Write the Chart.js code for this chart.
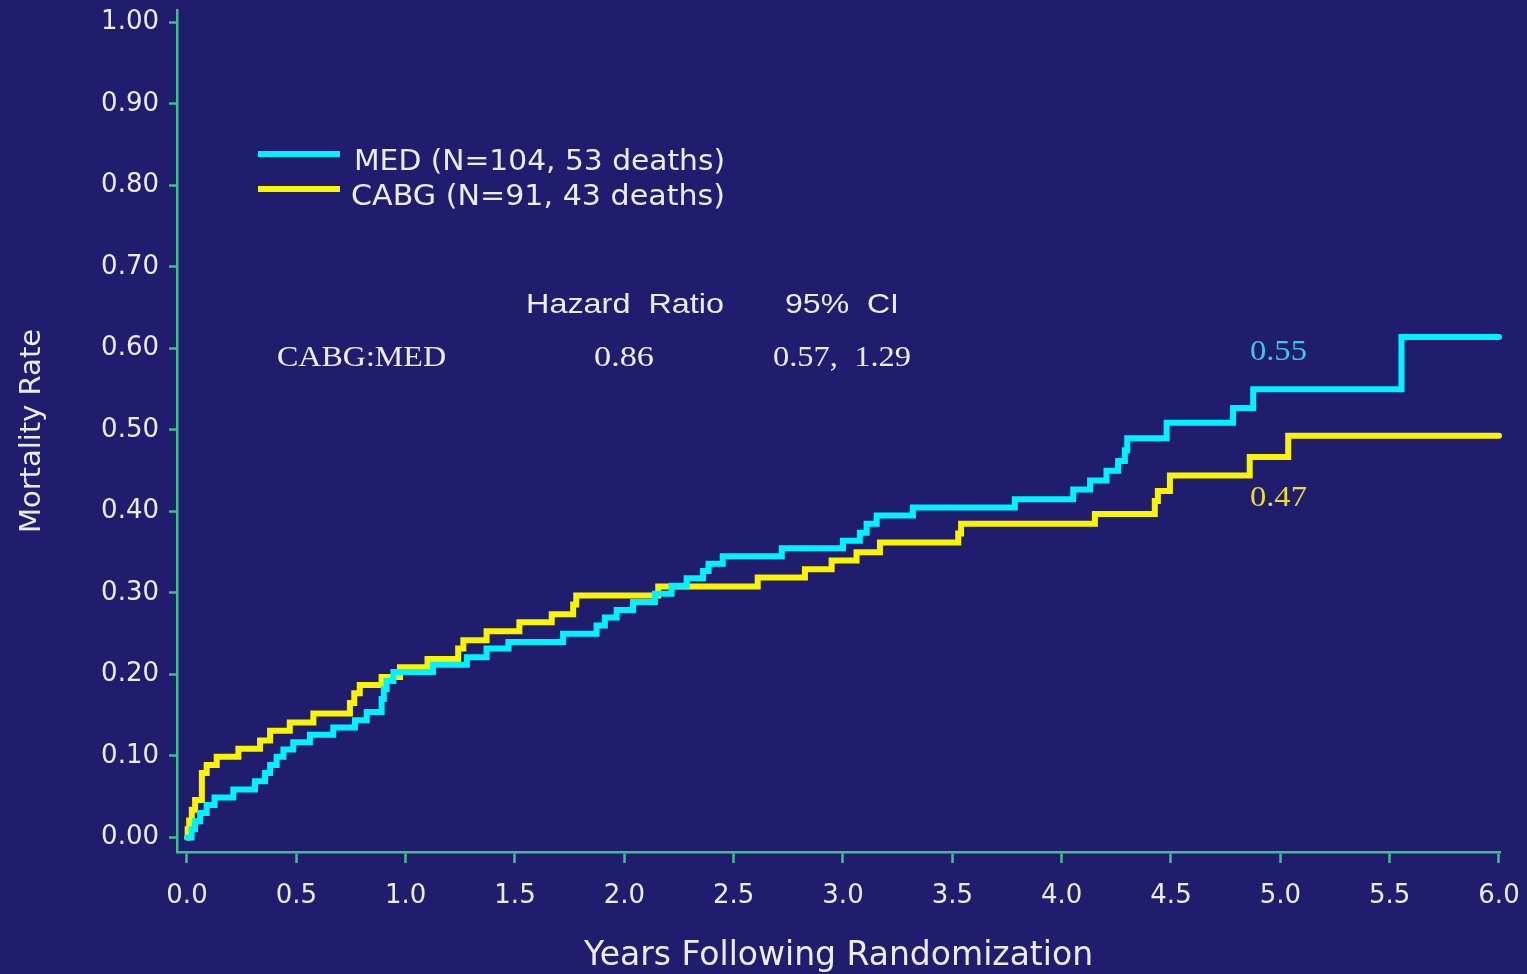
<!DOCTYPE html>
<html>
<head>
<meta charset="utf-8">
<script src="https://cdn.jsdelivr.net/npm/chart.js@4.4.1/dist/chart.umd.min.js"></script>
<style>
html,body{margin:0;padding:0;background:#211d6e;overflow:hidden}
#wrap{width:1527px;height:974px;position:relative;background:#211d6e}
canvas{display:block}
</style>
</head>
<body>
<div id="wrap"><canvas id="c" width="1527" height="974"></canvas></div>
<script>
// ---- data ----
const medYears = [0, 0.021, 0.037, 0.060, 0.090, 0.126, 0.212, 0.311, 0.357, 0.380, 0.410, 0.441, 0.486, 0.562, 0.669, 0.768, 0.822, 0.890, 0.900, 0.913, 0.944, 1.125, 1.280, 1.370, 1.470, 1.720, 1.873, 1.911, 1.965, 2.040, 2.140, 2.216, 2.285, 2.360, 2.385, 2.450, 2.720, 3.000, 3.077, 3.108, 3.154, 3.320, 3.786, 4.053, 4.130, 4.205, 4.258, 4.289, 4.300, 4.480, 4.784, 4.876, 5.554, 6.000];
const medRate  = [0, 0.010, 0.020, 0.030, 0.040, 0.049, 0.059, 0.069, 0.079, 0.089, 0.099, 0.108, 0.117, 0.126, 0.135, 0.144, 0.154, 0.170, 0.182, 0.192, 0.203, 0.212, 0.221, 0.232, 0.240, 0.250, 0.260, 0.270, 0.279, 0.289, 0.299, 0.309, 0.318, 0.327, 0.336, 0.345, 0.355, 0.364, 0.374, 0.385, 0.395, 0.405, 0.415, 0.427, 0.438, 0.450, 0.462, 0.475, 0.490, 0.509, 0.527, 0.550, 0.614, 0.614];
const cabgYears = [0, 0.003, 0.010, 0.022, 0.037, 0.068, 0.090, 0.136, 0.235, 0.334, 0.380, 0.470, 0.578, 0.745, 0.765, 0.790, 0.890, 0.974, 1.100, 1.240, 1.264, 1.370, 1.520, 1.668, 1.766, 1.780, 2.155, 2.610, 2.826, 2.948, 3.062, 3.169, 3.527, 3.540, 4.152, 4.426, 4.440, 4.495, 4.860, 5.036, 6.000];
const cabgRate  = [0, 0.010, 0.021, 0.034, 0.046, 0.079, 0.089, 0.099, 0.109, 0.119, 0.131, 0.141, 0.152, 0.165, 0.177, 0.187, 0.197, 0.209, 0.219, 0.232, 0.242, 0.253, 0.264, 0.274, 0.286, 0.297, 0.308, 0.319, 0.329, 0.340, 0.350, 0.362, 0.373, 0.385, 0.397, 0.413, 0.425, 0.444, 0.467, 0.493, 0.493];

const seriesLabels = ['MED (N=104, 53 deaths)', 'CABG (N=91, 43 deaths)'];
const xTickValues = [0, 0.5, 1.0, 1.5, 2.0, 2.5, 3.0, 3.5, 4.0, 4.5, 5.0, 5.5, 6.0];
const yTickValues = [0, 0.1, 0.2, 0.3, 0.4, 0.5, 0.6, 0.7, 0.8, 0.9, 1.0];
const tableHeader = ['Hazard  Ratio', '95%  CI'];
const tableRow = ['CABG:MED', '0.86', '0.57,  1.29'];
const endLabels = ['0.55', '0.47'];

// ---- styles ----
const BG = '#211d6e';
const AXIS = '#3fbf8c';
const TXT = '#ececf2';
const CYAN = '#00f2ff';
const YELLOW = '#fbf400';

function toPoints(xs, ys) { return xs.map((x, i) => ({ x: x, y: ys[i] })); }

function fitText(ctx, text, x, y, width, font, color) {
  ctx.font = font;
  const w = ctx.measureText(text).width;
  ctx.save();
  ctx.fillStyle = color;
  ctx.translate(x, y);
  ctx.scale(width / w, 1);
  ctx.fillText(text, 0, 0);
  ctx.restore();
}

const overlay = {
  id: 'overlay',
  afterDatasetsDraw(chart, args, o) {
    const ctx = chart.ctx;
    const xs = chart.scales.x, ys = chart.scales.y;
    ctx.save();
    ctx.textAlign = 'left';
    ctx.textBaseline = 'alphabetic';
    chart.data.datasets.forEach((ds, i) => {
      const r = o.legendRows[i];
      ctx.strokeStyle = ds.borderColor;
      ctx.lineWidth = 6;
      ctx.lineCap = 'butt';
      ctx.beginPath();
      ctx.moveTo(o.legendLineX0, r.lineY);
      ctx.lineTo(o.legendLineX1, r.lineY);
      ctx.stroke();
      fitText(ctx, ds.label, r.textX, r.baseline, r.width, o.legendFont, TXT);
    });
    tableHeader.forEach((t, i) => {
      const p = o.headerPos[i];
      fitText(ctx, t, p.x, p.y, p.w, o.headerFont, TXT);
    });
    tableRow.forEach((t, i) => {
      const p = o.rowPos[i];
      fitText(ctx, t, p.x, p.y, p.w, o.rowFont, TXT);
    });
    endLabels.forEach((t, i) => {
      const p = o.endPos[i];
      fitText(ctx, t, xs.getPixelForValue(p.t), ys.getPixelForValue(p.v), p.w, o.rowFont, p.color);
    });
    ctx.restore();
  }
};

const chart = new Chart(document.getElementById('c'), {
  type: 'line',
  data: {
    datasets: [
      {
        label: seriesLabels[0],
        data: toPoints(medYears, medRate),
        borderColor: CYAN, backgroundColor: CYAN,
        borderWidth: 6, stepped: 'before', pointRadius: 0,
        borderCapStyle: 'round', borderJoinStyle: 'miter', clip: false
      },
      {
        label: seriesLabels[1],
        data: toPoints(cabgYears, cabgRate),
        borderColor: YELLOW, backgroundColor: YELLOW,
        borderWidth: 6, stepped: 'before', pointRadius: 0,
        borderCapStyle: 'round', borderJoinStyle: 'miter', clip: false
      }
    ]
  },
  options: {
    responsive: false,
    animation: false,
    devicePixelRatio: 1,
    layout: { padding: { top: 10, right: 27, left: 0, bottom: 0 } },
    plugins: {
      legend: { display: false },
      tooltip: { enabled: false },
      overlay: {
        legendLineX0: 258, legendLineX1: 340,
        legendFont: '28px "DejaVu Sans"',
        legendRows: [
          { lineY: 154, textX: 354, baseline: 170, width: 371 },
          { lineY: 189, textX: 351, baseline: 205, width: 374 }
        ],
        headerFont: '28px "Liberation Sans"',
        headerPos: [ { x: 526, y: 313, w: 198 }, { x: 785, y: 313, w: 114 } ],
        rowFont: '30px "Liberation Serif"',
        rowPos: [ { x: 277, y: 366, w: 169 }, { x: 594, y: 366, w: 60 }, { x: 773, y: 366, w: 138 } ],
        endPos: [
          { t: 4.861, v: 0.586, w: 57, color: '#3ec6e8' },
          { t: 4.861, v: 0.407, w: 57, color: '#e9dc2c' }
        ]
      }
    },
    scales: {
      x: {
        type: 'linear',
        min: -0.0457, max: 6.0046,
        afterBuildTicks: (s) => { s.ticks = xTickValues.map(v => ({ value: v })); },
        afterFit: (s) => { s.height = 122; s.paddingLeft = 0; s.paddingRight = 0; },
        ticks: {
          color: TXT, font: { family: 'DejaVu Sans', size: 26 }, padding: 18,
          maxRotation: 0, autoSkip: false,
          callback: (v) => Number(v).toFixed(1)
        },
        grid: { display: true, drawOnChartArea: false, drawTicks: true, tickLength: 11, tickColor: AXIS, tickWidth: 2.5, color: AXIS },
        border: { display: true, color: AXIS, width: 2.5 },
        title: {
          display: true, text: 'Years Following Randomization', color: TXT,
          font: { family: 'DejaVu Sans', size: 33, lineHeight: 1.05 }, padding: { top: 4, bottom: 0 }
        }
      },
      y: {
        type: 'linear',
        min: -0.0178, max: 1.0153,
        afterBuildTicks: (s) => { s.ticks = yTickValues.map(v => ({ value: v })); },
        afterFit: (s) => { s.width = 177; s.paddingTop = 0; s.paddingBottom = 0; },
        ticks: {
          color: TXT, font: { family: 'DejaVu Sans', size: 26 }, padding: 10,
          autoSkip: false,
          callback: (v) => Number(v).toFixed(2)
        },
        grid: { display: true, drawOnChartArea: false, drawTicks: true, tickLength: 8, tickColor: AXIS, tickWidth: 2.5, color: AXIS },
        border: { display: true, color: AXIS, width: 2.5 },
        title: {
          display: true, text: 'Mortality Rate', color: TXT,
          font: { family: 'DejaVu Sans', size: 29 }, padding: { top: 15, bottom: 0 }
        }
      }
    }
  },
  plugins: [overlay]
});
</script>
</body>
</html>
